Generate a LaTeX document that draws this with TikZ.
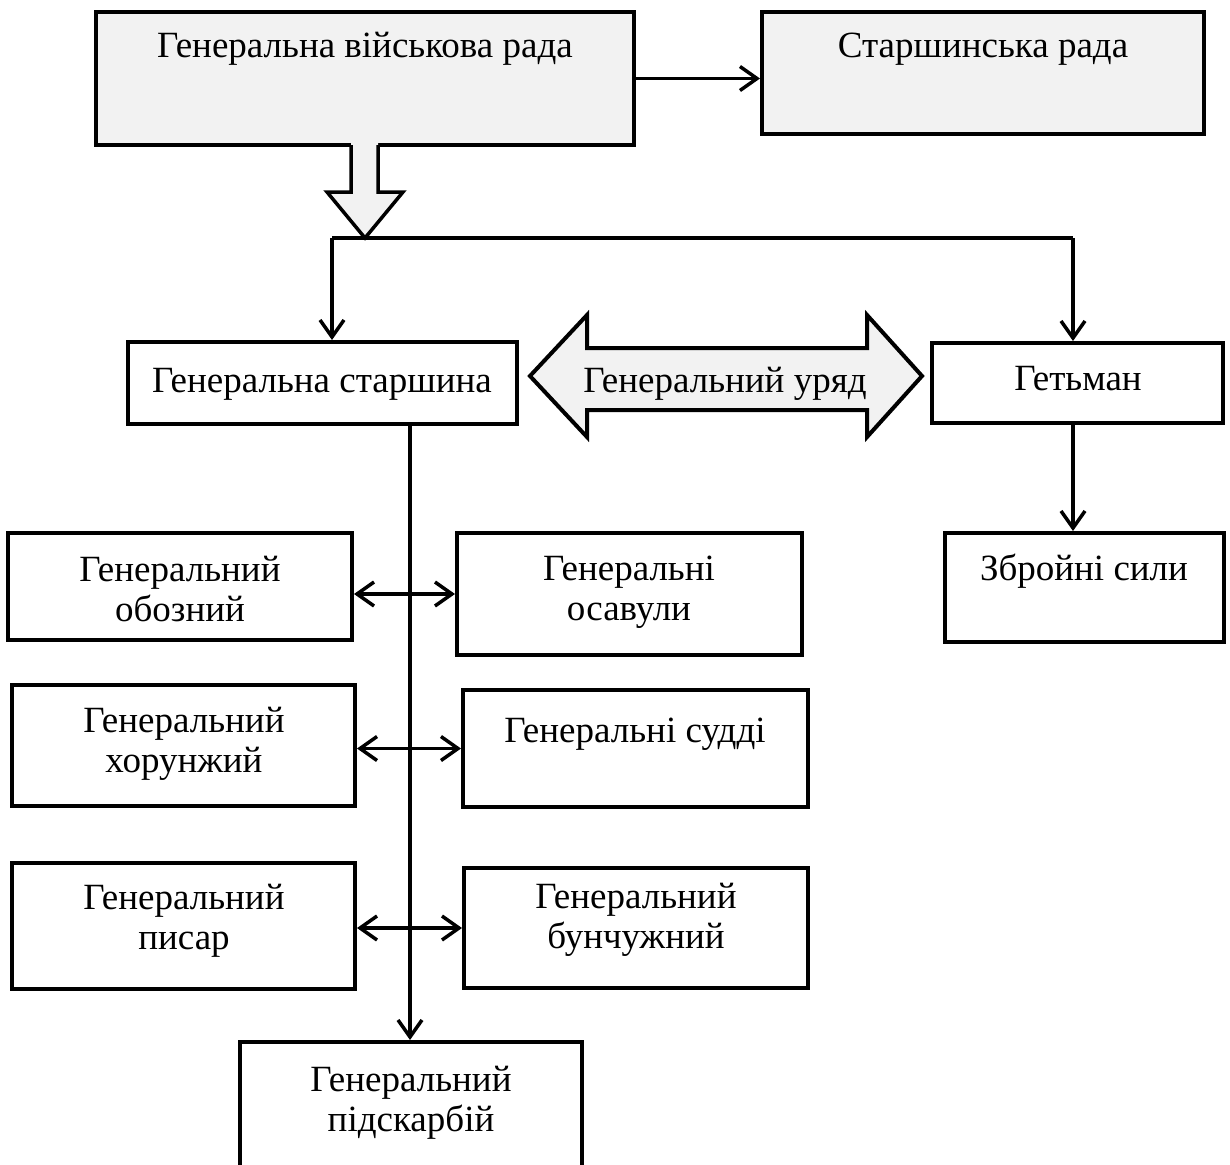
\documentclass[tikz,border=0pt]{standalone}
\usepackage{fontspec}
\setmainfont{Liberation Serif}
\usetikzlibrary{arrows.meta}

\begin{document}
\begin{tikzpicture}[x=1pt, y=-1pt, font=\fontsize{37}{40}\selectfont,
  box/.style={draw, line width=4pt, inner sep=0pt},
  lbl/.style={inner sep=0pt, align=center, anchor=base},
  conn/.style={line width=3.5pt, -{Straight Barb[length=17pt, width=24pt]}},
  dconn/.style={line width=3.5pt, {Straight Barb[length=17pt, width=24pt]}-{Straight Barb[length=17pt, width=24pt]}}]
  \useasboundingbox (0,0) rectangle (1230,1164);

  \foreach \nm/\xa/\ya/\xb/\yb/\fl in {
    rada/96/12/634/145/gray!10, starrada/762/12/1204/134/gray!10,
    starsh/128/342/517/424/white, hetman/932/343/1223/423/white,
    zbroi/945/533/1224/642/white,
    oboz/8/533/352/640/white, osav/457/533/802/655/white,
    khor/12/685/355/806/white, sudd/463/690/808/807/white,
    pysar/12/863/355/989/white, bunch/464/868/808/988/white,
    pidsk/240/1042/582/1185/white} {
    \node[box, fill=\fl, minimum width={(\xb-\xa)*1pt}, minimum height={(\yb-\ya)*1pt}]
      (\nm) at ({(\xa+\xb)/2}, {(\ya+\yb)/2}) {};
  }

  \foreach \nm/\tx/\ty/\lab in {
    rada/365/58/{Генеральна військова рада}, starrada/983/58/{Старшинська рада},
    starsh/322/392/{Генеральна старшина}, hetman/1078/390/{Гетьман},
    zbroi/1084/580/{Збройні сили},
    oboz/180/621/{Генеральний\\обозний}, osav/629/620/{Генеральні\\осавули},
    khor/184/772/{Генеральний\\хорунжий}, sudd/635/742/{Генеральні судді},
    pysar/184/949/{Генеральний\\писар}, bunch/636/948/{Генеральний\\бунчужний},
    pidsk/411/1131/{Генеральний\\підскарбій}} {
    \node[lbl] (\nm-t) at (\tx,\ty) {\lab};
  }

  \fill[gray!10] (351,141) -- (351,192) -- (327,192) -- (365,238) -- (403,192) -- (378,192) -- (378,141) -- cycle;
  \draw[line width=3.5pt, line join=miter] (351,145) -- (351,192) -- (327,192) -- (365,238) -- (403,192) -- (378,192) -- (378,145);

  \draw[fill=gray!10, line width=4pt, line join=miter] (530,376) -- (587,315) -- (587,348) -- (867,348) -- (867,315)
    -- (922,376) -- (867,437) -- (867,410) -- (587,410) -- (587,437) -- cycle;
  \node[lbl] (uryad-t) at (725,392) {Генеральний уряд};

  \coordinate (lft) at (332,238);
  \coordinate (rgt) at (1073,238);
  \coordinate (trunk) at (410,430);

  \draw[conn] (rada.east) -- (rada.east -| starrada.west);
  \draw[line width=3.5pt] (lft) -- (rgt);
  \draw[conn] (lft) -- (lft |- starsh.north);
  \draw[conn] (rgt) -- (rgt |- hetman.north);
  \draw[conn] (hetman.south -| rgt) -- (zbroi.north -| rgt);
  \draw[conn] (starsh.south -| trunk) -- (pidsk.north -| trunk);
  \draw[dconn] (osav.west -| oboz.east) -- (osav.west);
  \draw[dconn] (sudd.west -| khor.east) -- (sudd.west);
  \draw[dconn] (bunch.west -| pysar.east) -- (bunch.west);
\end{tikzpicture}
\end{document}
